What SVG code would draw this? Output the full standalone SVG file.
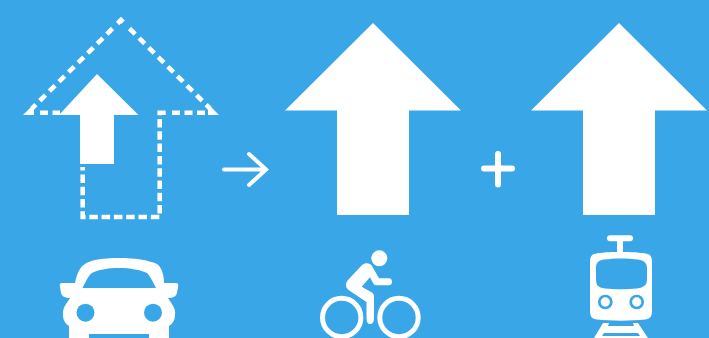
<svg xmlns="http://www.w3.org/2000/svg" width="709" height="338" viewBox="0 0 709 338">
<style>
.w{fill:#fff}
.bg{fill:#38a6e7}
.dash{fill:none;stroke:#fff;stroke-width:4.600}
.line{fill:none;stroke:#fff;stroke-linecap:round;stroke-linejoin:miter}
</style>
<rect class="bg" width="709" height="338"/>
<g id="dashed-arrow">
<path class="dash" stroke-dasharray="8 5.500" d="M117.500 23.500L121 20L124.500 23.500M112.500 28.500L32 108.500M129.500 28.500L210 108.500"/>
<path class="dash" stroke-dasharray="8 4.500" d="M40 112.700H60M172 112.700H208"/>
<path class="dash" stroke-dasharray="8.500 3.800" d="M165.700 112.700H159.700V217H82.700V167"/>
<path class="w" d="M23 115L31 107L34 107V115ZM208 115V107L211 107L219 115Z"/>
</g>
<g id="small-arrow"><path class="w" d="M97 74L138.500 115H114V164H80V115H59Z"/></g>
<g id="big-arrow-bike"><path class="w" d="M373 23L461 110.500H409V215H337V110.500H285Z"/></g>
<g id="big-arrow-transit"><path class="w" d="M619 23L707 110.500H655V215H583V110.500H531Z"/></g>
<g id="then-arrow"><path class="line" stroke-width="4" d="M224 169.500H265M249 154L266 169.500L249 185"/></g>
<g id="plus"><path class="line" stroke-width="6" d="M498 154V184.500M484 168.500H512"/></g>
<g id="car">
<path class="w" fill-rule="evenodd" d="M119 258C135 258 148 260 157 264C161 267 164 273 164 283L176 283Q179 283 178 287L177 293Q176 298 168 298C171 303 176 308 175 315C175 321 172 324 169 326V338H149V334H89V338H69V326C66 324 63 321 63 315C62 308 67 303 70 298Q62 298 61 293L60 287Q59 283 62 283L75 283C77 273 80 267 85 264C90 260 103 258 119 258ZM119 268C108 268 97 270 92 273C89 275 87 279 82.500 288H156C152 280 150 276 147 273C141 270 130 268 119 268Z"/>
<circle class="bg" cx="85.500" cy="312.700" r="9"/>
<circle class="bg" cx="153" cy="312.700" r="9"/>
</g>
<g id="bike">
<circle class="w" cx="379.300" cy="258.300" r="8"/>
<path class="w" d="M362 265C365 262.500 370 262.500 372 266L379 278.300H389Q392 278.500 392 282Q392 285 389 285.300H376Q374 285.300 373 283L370 277.300L361.700 286.700L372 292.500Q374 293.500 374 296V318Q374 324 370 324Q366.500 324 366.500 318V302L350 291C345 288 345 283.500 348 280Z"/>
<circle cx="341.700" cy="317.500" r="19.200" fill="none" stroke="#fff" stroke-width="5"/>
<circle cx="399" cy="317.500" r="19.200" fill="none" stroke="#fff" stroke-width="5"/>
</g>
<g id="train">
<path class="w" fill-rule="evenodd" d="M610 235.300H630Q633 235.300 633 238.300Q633 241.300 630 241.300H623V252C635 252 645 253 648 254C651 255 652 258 652 262V310C652 317 650 319 645 319.500C632 321 610 321 597 319.500C592 319 590 317 590 310V262C590 258 591 255 594 254C597 253 607 252 617 252V241.300H610Q607 241.300 607 238.300Q607 235.300 610 235.300ZM604 259.500C598 260.500 596 263 596 268V278C596 283 597 285 598 286C600 287.500 602 288 605 288.500C615 289.500 627 289.500 637 288.500C640 288 642 287.500 644 286C646 285 647 283 647 278V268C647 263 644 260.500 638 259.500C628 258 614 258 604 259.500Z"/>
<circle cx="605.300" cy="302" r="6" fill="none" stroke="#38a6e7" stroke-width="2.700"/>
<circle cx="636.700" cy="302" r="6" fill="none" stroke="#38a6e7" stroke-width="2.700"/>
<path class="w" d="M603 323H609L608 326H634L633 323H638L648 338H594ZM604 333L602 336H640L638 333Z"/>
</g>
</svg>
